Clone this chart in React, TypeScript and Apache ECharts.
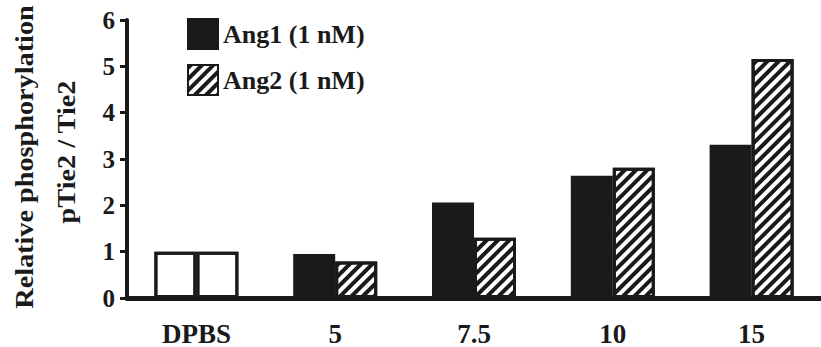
import React, { useEffect, useRef } from "react";
import * as echarts from "echarts";

// Tie2 phosphorylation relative to DPBS control, per ligand concentration
const categories = ["DPBS", "5", "7.5", "10", "15"];
const ang1Values = [1.0, 0.95, 2.06, 2.64, 3.31];
const ang2Values = [1.0, 0.79, 1.3, 2.81, 5.16];
const seriesNames = ["Ang1 (1 nM)", "Ang2 (1 nM)"];
const yTicks = { min: 0, max: 6, interval: 1 };
const yTitleLines = ["Relative phosphorylation", "pTie2 / Tie2"];

const INK = "#1a1a1a";
const FONT = "Liberation Serif";

const hatch = {
  symbol: "rect",
  symbolSize: 1,
  color: INK,
  backgroundColor: "#ffffff",
  dashArrayX: [1, 0],
  dashArrayY: [4, 4],
  rotation: -Math.PI / 4,
};

export default function App() {
  const ref = useRef<HTMLDivElement>(null);

  useEffect(() => {
    if (!ref.current) return;
    const chart = echarts.init(ref.current, null, { renderer: "svg" });

    // the control column is drawn as open boxes for both series
    const controlStyle = {
      color: "#ffffff",
      borderColor: INK,
      borderWidth: 3,
      decal: { symbol: "none" },
    };

    const ang1Data = ang1Values.map((v, i) =>
      i === 0 ? { value: v, itemStyle: controlStyle } : v
    );
    const ang2Data = ang2Values.map((v, i) =>
      i === 0 ? { value: v, itemStyle: controlStyle } : v
    );

    const titleText = (text: string, x: number, y: number) => ({
      type: "text",
      x,
      y,
      rotation: Math.PI / 2,
      scaleX: 1.13,
      style: {
        text,
        fontFamily: FONT,
        fontWeight: "bold",
        fontSize: 25,
        fill: INK,
        align: "center",
        verticalAlign: "middle",
      },
    });

    chart.setOption({
      animation: false,
      backgroundColor: "#ffffff",
      grid: { left: 127, right: -6, top: 20, bottom: 49, containLabel: false },
      legend: {
        data: seriesNames,
        orient: "vertical",
        left: 187,
        top: 18,
        padding: 0,
        itemWidth: 30,
        itemHeight: 30,
        itemGap: 14,
        icon: "rect",
        textStyle: {
          fontFamily: FONT,
          fontWeight: "bold",
          fontSize: 26,
          color: INK,
        },
      },
      xAxis: {
        type: "category",
        data: categories,
        axisLine: { show: true, lineStyle: { color: INK, width: 5 } },
        axisTick: { show: false },
        axisLabel: {
          fontFamily: FONT,
          fontWeight: "bold",
          fontSize: 27,
          color: INK,
          margin: 22,
        },
        splitLine: { show: false },
      },
      yAxis: {
        type: "value",
        min: yTicks.min,
        max: yTicks.max,
        interval: yTicks.interval,
        axisLine: { show: true, lineStyle: { color: INK, width: 4 } },
        axisTick: { show: true, length: 7, lineStyle: { color: INK, width: 3 } },
        axisLabel: {
          fontFamily: FONT,
          fontWeight: "bold",
          fontSize: 25,
          color: INK,
          margin: 12,
        },
        splitLine: { show: false },
      },
      series: [
        {
          name: seriesNames[0],
          type: "bar",
          data: ang1Data,
          barWidth: 42,
          barGap: "0%",
          itemStyle: { color: INK, borderColor: INK, borderWidth: 3 },
        },
        {
          name: seriesNames[1],
          type: "bar",
          data: ang2Data,
          barWidth: 42,
          barGap: "0%",
          itemStyle: {
            color: "#ffffff",
            borderColor: INK,
            borderWidth: 3,
            decal: hatch,
          },
        },
      ],
      graphic: [
        titleText(yTitleLines[0], 25, 157),
        titleText(yTitleLines[1], 67, 152),
      ],
    });

    return () => chart.dispose();
  }, []);

  return (
    <div
      ref={ref}
      style={{
        position: "fixed",
        left: 0,
        top: 0,
        width: 821,
        height: 347,
        background: "#ffffff",
      }}
    />
  );
}
